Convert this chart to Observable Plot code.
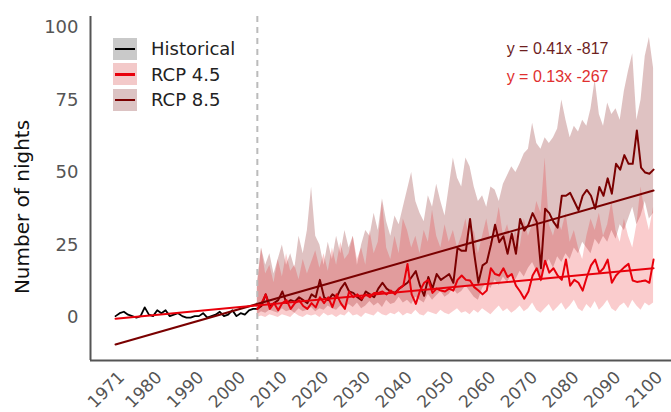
<!DOCTYPE html>
<html><head><meta charset="utf-8">
<script src="https://cdn.jsdelivr.net/npm/d3@7"></script>
<script src="https://cdn.jsdelivr.net/npm/@observablehq/plot@0.6"></script>
<style>
body{margin:0;background:#fff;}
#wrap{position:relative;width:671px;height:412px;font-family:"DejaVu Sans",sans-serif;}
#legend{position:absolute;left:113px;top:36px;}
.row{display:flex;align-items:center;height:25.5px;}
.sw{width:24px;height:22px;position:relative;margin-right:14px;}
.sw i{position:absolute;left:2px;right:2px;top:10px;height:2.5px;}
.row span{font-size:18px;color:#222;}
#ylab{position:absolute;left:22px;top:207px;transform:translate(-50%,-50%) rotate(-90deg);font-size:20px;color:#111;white-space:nowrap;}
</style></head><body><div id="wrap"></div>
<script>
// ---- data ----
const histYears = d3.range(1971, 2006);
const histValues = [
  0.5, 1.5, 2, 1, 0.5, 0, 0.5, 3.5, 1,
  0.5, 2.5, 1.5, 2.5, 0.5, 1, 1.5, 0.5, 0, 0,
  0.5, 0.5, 1.5, 0, 0.5, 1, 2, 0.5, 1, 2.5,
  0.5, 1.5, 1, 2.5, 3, 3
];
const projYears = d3.range(2005, 2101);
const rcp85Mean = [
  3, 4, 8, 4, 5,
  6, 9, 5, 6, 5.5, 7, 6, 5, 8, 7,
  13, 7, 6, 8, 7, 10, 12, 9, 8.5, 7,
  6, 9, 8, 7, 10, 12, 10, 9, 8.5, 10,
  11, 12, 14, 16, 11, 7.5, 14, 10, 15, 13,
  14, 15, 12, 24, 23, 23, 34, 22, 12, 18,
  19, 25, 32, 26, 28, 22, 29, 22, 34, 30,
  32, 36, 33, 17, 37.5, 36, 33, 31, 42, 42,
  43, 40, 37, 42, 44, 42, 37.5, 45, 42, 48,
  42.7, 53, 51, 56, 53, 53, 64.5, 51.7, 50, 49.6,
  51
];
const rcp45Mean = [
  3, 5, 8, 3, 5,
  2.5, 5, 6, 3, 5, 6, 4, 3, 5, 3.5,
  7, 5, 7, 3.6, 8, 5, 3, 9, 7, 8,
  6.5, 8, 7, 8.5, 8.5, 9, 8, 9.3, 8, 10,
  11, 18.5, 8, 4.7, 9.3, 12, 13, 8.5, 10, 9.3,
  9, 10, 9.3, 13, 14.5, 13, 12.8, 10.5, 9.3, 8,
  9.3, 17, 15, 14.5, 17, 14, 15, 11, 9, 6.5,
  9, 14.5, 17, 13, 19.6, 15.5, 17, 14.5, 13, 20,
  11, 13, 12, 9.3, 14, 18, 20, 15.5, 17, 20,
  12, 14.5, 16, 17.4, 18.5, 12.8, 12.3, 12.5, 12.8, 12,
  20
];
const rcp85Upper = [
  12, 24, 18, 22, 15,
  20, 25, 18, 22, 17, 28, 22, 30, 45, 28,
  25, 18, 26, 20, 28, 22, 30, 24, 28, 18,
  25, 30, 28, 36, 30, 41, 33, 28, 35, 32,
  38, 44, 50, 40, 36, 33, 42, 38, 46, 40,
  35, 45, 55, 48, 45, 55, 52, 45, 40, 42,
  38, 45, 44, 40, 46, 49, 52, 50, 53, 56.5,
  58, 67, 60, 58, 62, 60, 62, 65, 75, 68,
  62, 66, 64, 68, 66, 72, 82, 70, 66, 74,
  70, 72, 68, 78, 85, 91, 68, 75, 90, 96.6,
  86
];
const rcp85Lower = [
  1, 2, 1.5, 2.5, 2,
  1.5, 3, 2, 2.5, 1.5, 3, 2, 2.5, 3.5, 2,
  3, 2.5, 4, 3, 2.5, 4, 3, 4.5, 3.5, 5,
  3, 4, 5.5, 4, 5, 3.5, 6, 4.5, 5, 7,
  5, 6, 4.5, 7, 6, 5, 8, 6, 7.5, 9,
  7, 8, 10, 8, 9, 11, 9, 7, 6, 10,
  12, 10, 13, 11, 14, 12, 15, 13, 16, 14,
  17, 19, 16, 12, 18, 20, 17, 21, 19, 22,
  20, 24, 22, 26, 24, 22, 27, 25, 28, 26,
  30, 27, 32, 30, 34, 38, 32, 35, 40, 34,
  36
];
const rcp45Upper = [
  10, 24, 15, 18, 12,
  20, 14, 22, 16, 18, 13, 20, 15, 19, 23,
  17, 22, 16, 24, 18, 26, 20, 22, 28, 20,
  24, 18, 30, 22, 26, 40, 24, 20, 28, 22,
  34, 30, 24, 28, 22, 30, 26, 37, 28, 24,
  32, 26, 30, 24, 28, 34, 26, 30, 22, 28,
  34, 26, 30, 38, 28, 32, 26, 30, 24, 34,
  28, 32, 40, 36, 55, 32, 28, 34, 30, 36,
  26, 30, 24, 20, 28, 34, 30, 36, 28, 32,
  40, 30, 26, 34, 28, 24, 32, 45, 36, 30,
  38
];
const rcp45Lower = [
  0, 0.5, 0, 1, 0.5,
  0, 1, 0.5, 0, 1.5, 0.5, 0, 1, 0.5, 1,
  0, 1.5, 0.5, 1, 0, 1, 0.5, 2, 0.5, 1,
  0, 1.5, 1, 0.5, 2, 1, 0.5, 1.5, 1, 2,
  0.5, 1.5, 1, 2.5, 1, 0.5, 2, 1.5, 1, 2.5,
  1.5, 1, 2, 3, 1.5, 2, 1, 2.5, 1.5, 3,
  2, 1, 2.5, 4, 2, 3, 1.5, 2.5, 4, 2,
  3, 5, 2.5, 1.5, 3, 4.5, 2, 3.5, 5, 2.5,
  4, 6, 3, 2, 4.5, 3, 5.5, 2.5, 4, 6,
  3, 2, 4, 5, 3, 6, 4, 2.5, 5, 4,
  5
];
const trendYears = [1971, 2100];
const trend85 = [-9.3, 43.8];
const trend45 = [-0.4, 17];
const dividerYear = 2005;
const xTicks = [1971, 1980, 1990, 2000, 2010, 2020, 2030, 2040, 2050, 2060, 2070, 2080, 2090, 2100];
const yTicks = [0, 25, 50, 75, 100];
const equationLabels = ["y = 0.41x -817", "y = 0.13x -267"];
const seriesNames = ["Historical", "RCP 4.5", "RCP 8.5"];

// ---- config ----
const xDomain = [1965, 2104.3];
const yDomain = [-14.8, 103.8];
const cHist = "#000000", c45 = "#e8000b", c85 = "#7a0000";

const hist = histYears.map((year, i) => ({year, v: histValues[i]}));
const proj = projYears.map((year, i) => ({
  year, m85: rcp85Mean[i], m45: rcp45Mean[i],
  up85: rcp85Upper[i], lo85: rcp85Lower[i], up45: rcp45Upper[i], lo45: rcp45Lower[i]
}));
const trend = trendYears.map((year, i) => ({year, v85: trend85[i], v45: trend45[i]}));

const chart = Plot.plot({
  width: 671, height: 412,
  marginLeft: 90, marginRight: 0, marginTop: 16, marginBottom: 52,
  style: {fontFamily: "DejaVu Sans", background: "white", overflow: "visible"},
  x: {domain: xDomain},
  y: {domain: yDomain},
  marks: [
    Plot.areaY(proj, {x: "year", y1: "lo85", y2: "up85", fill: "#8b2323", fillOpacity: 0.28}),
    Plot.areaY(proj, {x: "year", y1: "lo45", y2: "up45", fill: "#e8191c", fillOpacity: 0.22}),
    Plot.ruleX([dividerYear], {stroke: "#bbbbbb", strokeWidth: 2, strokeDasharray: "6,5"}),
    Plot.lineY(hist, {x: "year", y: "v", stroke: cHist, strokeWidth: 1.8}),
    Plot.lineY(proj, {x: "year", y: "m85", stroke: c85, strokeWidth: 2}),
    Plot.lineY(proj, {x: "year", y: "m45", stroke: c45, strokeWidth: 2}),
    Plot.line(trend, {x: "year", y: "v85", stroke: c85, strokeWidth: 2}),
    Plot.line(trend, {x: "year", y: "v45", stroke: c45, strokeWidth: 2}),
    Plot.ruleX([xDomain[0]], {stroke: "#555", strokeWidth: 2}),
    Plot.ruleY([yDomain[0]], {stroke: "#555", strokeWidth: 2}),
    Plot.axisY({ticks: yTicks, tickSize: 0, tickPadding: 12, fontSize: 18, color: "#555", label: null}),
    Plot.axisX({ticks: xTicks, tickFormat: d => String(d), tickRotate: -45, tickSize: 0, tickPadding: 14, dx: 6, fontSize: 17, color: "#555", label: null}),
    Plot.text([equationLabels[0]], {text: d => d, frameAnchor: "top-right", dx: -63, dy: 26, fill: "#6e1f1f", fontSize: 16, fontFamily: "Liberation Sans"}),
    Plot.text([equationLabels[1]], {text: d => d, frameAnchor: "top-right", dx: -63, dy: 54, fill: "#e03030", fontSize: 16, fontFamily: "Liberation Sans"})
  ]
});

const wrap = document.getElementById("wrap");
wrap.appendChild(chart);

const swatches = [
  {fill: "#c9c9c9", line: cHist},
  {fill: "#f3c9c9", line: c45},
  {fill: "#dcc3c3", line: c85}
];
const legend = document.createElement("div");
legend.id = "legend";
seriesNames.forEach((name, i) => {
  const row = document.createElement("div");
  row.className = "row";
  row.innerHTML = `<div class="sw" style="background:${swatches[i].fill}"><i style="background:${swatches[i].line}"></i></div><span>${name}</span>`;
  legend.appendChild(row);
});
wrap.appendChild(legend);

const ylab = document.createElement("div");
ylab.id = "ylab";
ylab.textContent = "Number of nights";
wrap.appendChild(ylab);
</script></body></html>
